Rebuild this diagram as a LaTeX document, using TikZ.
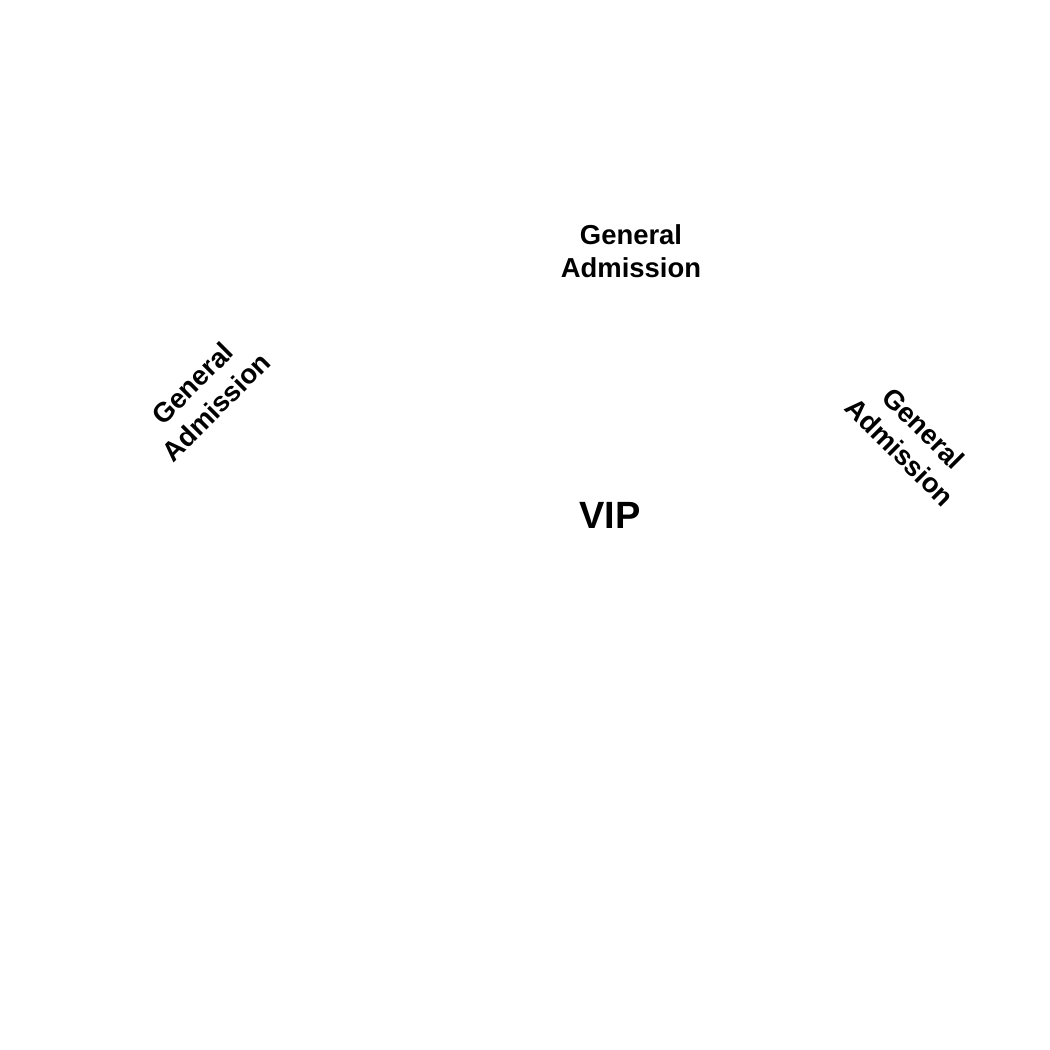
\documentclass[tikz,border=0pt]{standalone}
\usepackage{fontspec}
\setmainfont{Liberation Sans}
\usetikzlibrary{positioning}
\tikzset{section label/.style={align=center, font=\bfseries\fontsize{7.8}{9.5}\selectfont, inner sep=0pt}}
\tikzset{vip label/.style={font=\bfseries\fontsize{10.8}{13}\selectfont, inner sep=0pt}}

\begin{document}
\begin{tikzpicture}[x=0.01cm, y=-0.01cm]
\useasboundingbox (0,0) rectangle (1050,1050);
\node[section label] (gatop) at (631,251) {General\\Admission};
\node[section label, rotate=45] (galeft) at (204,395) {General\\Admission};
\node[section label, rotate=-45] (garight) at (912,440) {General\\Admission};
\node[vip label] (vip) at (610,515) {VIP};
\end{tikzpicture}
\end{document}
